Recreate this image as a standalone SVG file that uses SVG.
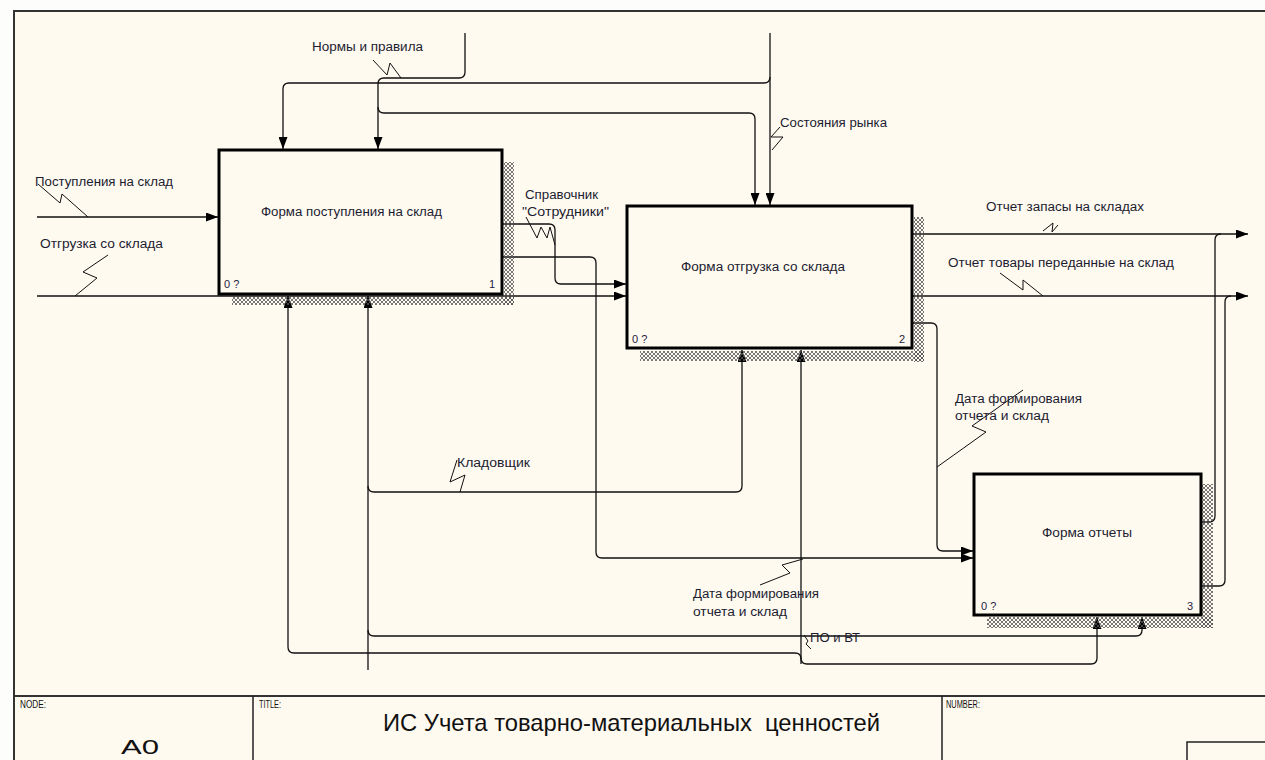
<svg xmlns="http://www.w3.org/2000/svg" width="1265" height="760" viewBox="0 0 1265 760">
<style>
.ln{fill:none;stroke:#111;stroke-width:1.3}
.sq{fill:none;stroke:#111;stroke-width:1}
.box{fill:#fffaf0;stroke:#000;stroke-width:3}
.hat{fill:url(#hatch)}
.lbl{font-family:"Liberation Sans",Arial,sans-serif;font-size:12px;fill:#1c1c30}
.num{font-family:"Liberation Sans",Arial,sans-serif;font-size:11px;fill:#1c1c40}
.tb{font-family:"Liberation Sans",Arial,sans-serif;font-size:10px;fill:#111}
.big{font-family:"Liberation Sans",Arial,sans-serif;fill:#111}
.frame{fill:none;stroke:#333;stroke-width:2}
</style>
<defs>
<pattern id="hatch" width="4" height="4" patternUnits="userSpaceOnUse">
<path d="M0,0 L4,4 M4,0 L0,4" stroke="#555" stroke-width="0.8"/>
</pattern>
<marker id="a" viewBox="0 0 12 9" refX="12" refY="4.5" markerWidth="12" markerHeight="9" markerUnits="userSpaceOnUse" orient="auto">
<path d="M0,0 L12,4.5 L0,9 z" fill="#000"/>
</marker>
</defs>
<rect x="0" y="0" width="1265" height="760" fill="#fdfdfb"/>
<rect x="14" y="11" width="1251" height="749" fill="#fffaf0"/>
<path class="frame" d="M14,760 V11 H1265"/>

<g id="connectors">
<path class="ln" d="M37,217 H218" marker-end="url(#a)"/>
<path class="ln" d="M37,296 H626" marker-end="url(#a)"/>
<path class="ln" d="M503,224 H549 Q555,224 555,230 V278 Q555,284 561,284 H626" marker-end="url(#a)"/>
<path class="ln" d="M503,257 H590 Q596,257 596,263 V552 Q596,558 602,558 H973" marker-end="url(#a)"/>
<path class="ln" d="M913,323 H931 Q937,323 937,329 V545 Q937,551 943,551 H973" marker-end="url(#a)"/>
<path class="ln" d="M465,33 V72 Q465,78 459,78 H384 Q378,78 378,84 V149" marker-end="url(#a)"/>
<path class="ln" d="M378,107 Q378,113 384,113 H749 Q755,113 755,119 V205" marker-end="url(#a)"/>
<path class="ln" d="M770,33 V205" marker-end="url(#a)"/>
<path class="ln" d="M770,77 Q770,83 764,83 H289 Q283,83 283,89 V149" marker-end="url(#a)"/>
<path class="ln" d="M913,234 H1248" marker-end="url(#a)"/>
<path class="ln" d="M913,296 H1248" marker-end="url(#a)"/>
<path class="ln" d="M1201,522 H1209 Q1215,522 1215,516 V240 Q1215,234 1221,234"/>
<path class="ln" d="M1201,586 H1219 Q1225,586 1225,580 V302 Q1225,296 1231,296"/>
<path class="ln" d="M368,670 V296" marker-end="url(#a)"/>
<path class="ln" d="M368,486 Q368,492 374,492 H736 Q742,492 742,486 V350" marker-end="url(#a)"/>
<path class="ln" d="M368,630 Q368,636 374,636 H1136 Q1142,636 1142,630 V617" marker-end="url(#a)"/>
<path class="ln" d="M801,664 V350" marker-end="url(#a)"/>
<path class="ln" d="M801,659 Q801,653 795,653 H294 Q288,653 288,647 V296" marker-end="url(#a)"/>
<path class="ln" d="M801,658 Q801,664 807,664 H1091 Q1097,664 1097,658 V617" marker-end="url(#a)"/>
<polyline class="sq" points="373,60 387,75 390,63 401,78"/>
<polyline class="sq" points="38,184 60,203 62,194 88,217"/>
<polyline class="sq" points="108,255 83,272 97,278 75,296"/>
<polyline class="sq" points="526,217 537,238 541,227 547,238 550,227 555,245"/>
<polyline class="sq" points="780,127 771,137 783,137 772,150"/>
<polyline class="sq" points="1043,231 1053,223 1052,232 1058,225"/>
<polyline class="sq" points="1000,273 1023,290 1023,280 1043,296"/>
<polyline class="sq" points="937,467 986,432 972,426 1023,390"/>
<polyline class="sq" points="457,460 450,482 465,475 460,492"/>
<polyline class="sq" points="803,559 782,565 790,573 760,585"/>
<polyline class="sq" points="804,635 808,641 806,644 811,649"/>
</g>

<g id="node1">
<rect class="hat" x="504" y="162" width="10" height="143"/>
<rect class="hat" x="232" y="297" width="282" height="8"/>
<rect class="box" x="219" y="150" width="283" height="144"/>
<text class="lbl" x="261" y="216" textLength="181" lengthAdjust="spacingAndGlyphs">Форма поступления на склад</text>
<text class="num" x="224" y="288">0 ?</text>
<text class="num" x="489" y="288">1</text>
</g>

<g id="node2">
<rect class="hat" x="914" y="217" width="10" height="145"/>
<rect class="hat" x="640" y="351" width="284" height="10"/>
<rect class="box" x="627" y="206" width="285" height="142"/>
<text class="lbl" x="681" y="271" textLength="164" lengthAdjust="spacingAndGlyphs">Форма отгрузка со склада</text>
<text class="num" x="632" y="343">0 ?</text>
<text class="num" x="899" y="343">2</text>
</g>

<g id="node3">
<rect class="hat" x="1202" y="484" width="11" height="144"/>
<rect class="hat" x="987" y="617" width="226" height="11"/>
<rect class="box" x="974" y="474" width="227" height="141"/>
<text class="lbl" x="1042" y="537" textLength="90" lengthAdjust="spacingAndGlyphs">Форма отчеты</text>
<text class="num" x="981" y="610">0 ?</text>
<text class="num" x="1187" y="610">3</text>
</g>

<g id="labels">
<text class="lbl" x="312" y="51" textLength="111" lengthAdjust="spacingAndGlyphs">Нормы и правила</text>
<text class="lbl" x="35" y="186" textLength="138" lengthAdjust="spacingAndGlyphs">Поступления на склад</text>
<text class="lbl" x="40" y="248" textLength="123" lengthAdjust="spacingAndGlyphs">Отгрузка со склада</text>
<text class="lbl" x="525" y="199" textLength="73" lengthAdjust="spacingAndGlyphs">Справочник</text>
<text class="lbl" x="522" y="216" textLength="87" lengthAdjust="spacingAndGlyphs">"Сотрудники"</text>
<text class="lbl" x="780" y="127" textLength="107" lengthAdjust="spacingAndGlyphs">Состояния рынка</text>
<text class="lbl" x="986" y="211" textLength="158" lengthAdjust="spacingAndGlyphs">Отчет запасы на складах</text>
<text class="lbl" x="948" y="267" textLength="226" lengthAdjust="spacingAndGlyphs">Отчет товары переданные на склад</text>
<text class="lbl" x="955" y="403" textLength="127" lengthAdjust="spacingAndGlyphs">Дата формирования</text>
<text class="lbl" x="955" y="420" textLength="94" lengthAdjust="spacingAndGlyphs">отчета и склад</text>
<text class="lbl" x="457" y="467" textLength="73" lengthAdjust="spacingAndGlyphs">Кладовщик</text>
<text class="lbl" x="693" y="598" textLength="126" lengthAdjust="spacingAndGlyphs">Дата формирования</text>
<text class="lbl" x="693" y="616" textLength="94" lengthAdjust="spacingAndGlyphs">отчета и склад</text>
<text class="lbl" x="810" y="642" textLength="50" lengthAdjust="spacingAndGlyphs">ПО и ВТ</text>
</g>

<g id="titleblock">
<path class="frame" d="M14,696 H1265"/>
<path fill="none" stroke="#222" stroke-width="1.5" d="M253,696 V760 M942,696 V760 M1187,760 V742 H1265"/>
<text class="tb" x="20" y="708" textLength="26" lengthAdjust="spacingAndGlyphs">NODE:</text>
<text class="tb" x="259" y="708" textLength="22" lengthAdjust="spacingAndGlyphs">TITLE:</text>
<text class="tb" x="946" y="708" textLength="34" lengthAdjust="spacingAndGlyphs">NUMBER:</text>
<text class="big" x="121" y="754" font-size="21" textLength="38" lengthAdjust="spacingAndGlyphs">A0</text>
<text class="big" x="383" y="731" font-size="24" textLength="497" lengthAdjust="spacingAndGlyphs">ИС Учета товарно-материальных&#160; ценностей</text>
</g>
</svg>
